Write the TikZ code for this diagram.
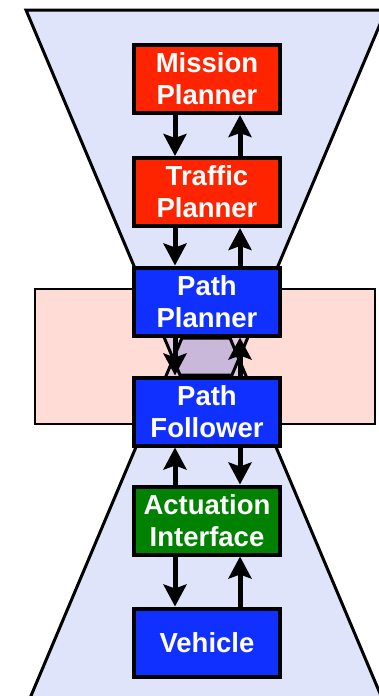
\documentclass[tikz,border=0pt]{standalone}
\usepackage{fontspec}
\setmainfont{Liberation Sans}
\usetikzlibrary{arrows.meta}
\definecolor{funnelblue}{RGB}{224,228,250}
\definecolor{pinkband}{RGB}{255,220,214}
\definecolor{overlapA}{RGB}{226,202,226}
\definecolor{overlapB}{RGB}{202,184,219}
\definecolor{boxred}{RGB}{255,36,0}
\definecolor{boxblue}{RGB}{16,48,255}
\definecolor{boxgreen}{RGB}{0,130,0}
\begin{document}
\begin{tikzpicture}[x=1pt,y=-1pt,
  stage/.style={draw=black,line width=4pt,minimum width=146pt,minimum height=68pt,
    text=white,font=\bfseries\fontsize{27.5}{32}\selectfont,align=center,inner sep=0pt},
  flow/.style={line width=5pt,-{Stealth[length=22pt,width=23pt,inset=4pt]}},
  edge/.style={draw=black,line width=3pt,line join=miter}]
\useasboundingbox (0,0) rectangle (379,696);
\clip (0,0) rectangle (379,696);

% upper (narrowing) and lower (widening) funnels
\def\upperfunnel{(26,10) -- (386,10) -- (232,375) -- (180,375) -- cycle}
\def\lowerfunnel{(182,338) -- (230,338) -- (387,710) -- (25,710) -- cycle}
\filldraw[fill=funnelblue,edge] \upperfunnel;
\filldraw[fill=funnelblue,edge] \lowerfunnel;

% pink band across the middle
\filldraw[fill=pinkband,draw=black,line width=2.5pt] (35,289) rectangle (375,424);

% where the funnels cross the band
\begin{scope}
  \clip (36.5,290.5) rectangle (373.5,422.5);
  \fill[overlapA] \upperfunnel;
  \fill[overlapA] \lowerfunnel;
  \begin{scope}
    \clip \upperfunnel;
    \fill[overlapB] \lowerfunnel;
  \end{scope}
  \draw[edge] \upperfunnel;
  \draw[edge] \lowerfunnel;
\end{scope}

% stages
\node[stage,fill=boxred]   (mp) at (207,79)    {Mission\\Planner};
\node[stage,fill=boxred]   (tp) at (207,192)   {Traffic\\Planner};
\node[stage,fill=boxblue]  (pp) at (207,301.5) {Path\\Planner};
\node[stage,fill=boxblue]  (pf) at (207,411.5) {Path\\Follower};
\node[stage,fill=boxgreen] (ai) at (207,520.5) {Actuation\\Interface};
\node[stage,fill=boxblue]  (vh) at (207,642.5) {Vehicle};

% data flow between stages
\draw[flow] ([xshift=-32pt]mp.south) -- ([xshift=-32pt]tp.north);
\draw[flow] ([xshift=33pt]tp.north) -- ([xshift=33pt]mp.south);
\draw[flow] ([xshift=-32pt]tp.south) -- ([xshift=-32pt]pp.north);
\draw[flow] ([xshift=33pt]pp.north) -- ([xshift=33pt]tp.south);
\draw[flow] ([xshift=-32pt]pp.south) -- ([xshift=-32pt]pf.north);
\draw[flow] ([xshift=33pt]pf.north) -- ([xshift=33pt]pp.south);
\draw[flow] ([xshift=-32pt]ai.north) -- ([xshift=-32pt]pf.south);
\draw[flow] ([xshift=33pt]pf.south) -- ([xshift=33pt]ai.north);
\draw[flow] ([xshift=-32pt]ai.south) -- ([xshift=-32pt]vh.north);
\draw[flow] ([xshift=33pt]vh.north) -- ([xshift=33pt]ai.south);
\end{tikzpicture}
\end{document}
